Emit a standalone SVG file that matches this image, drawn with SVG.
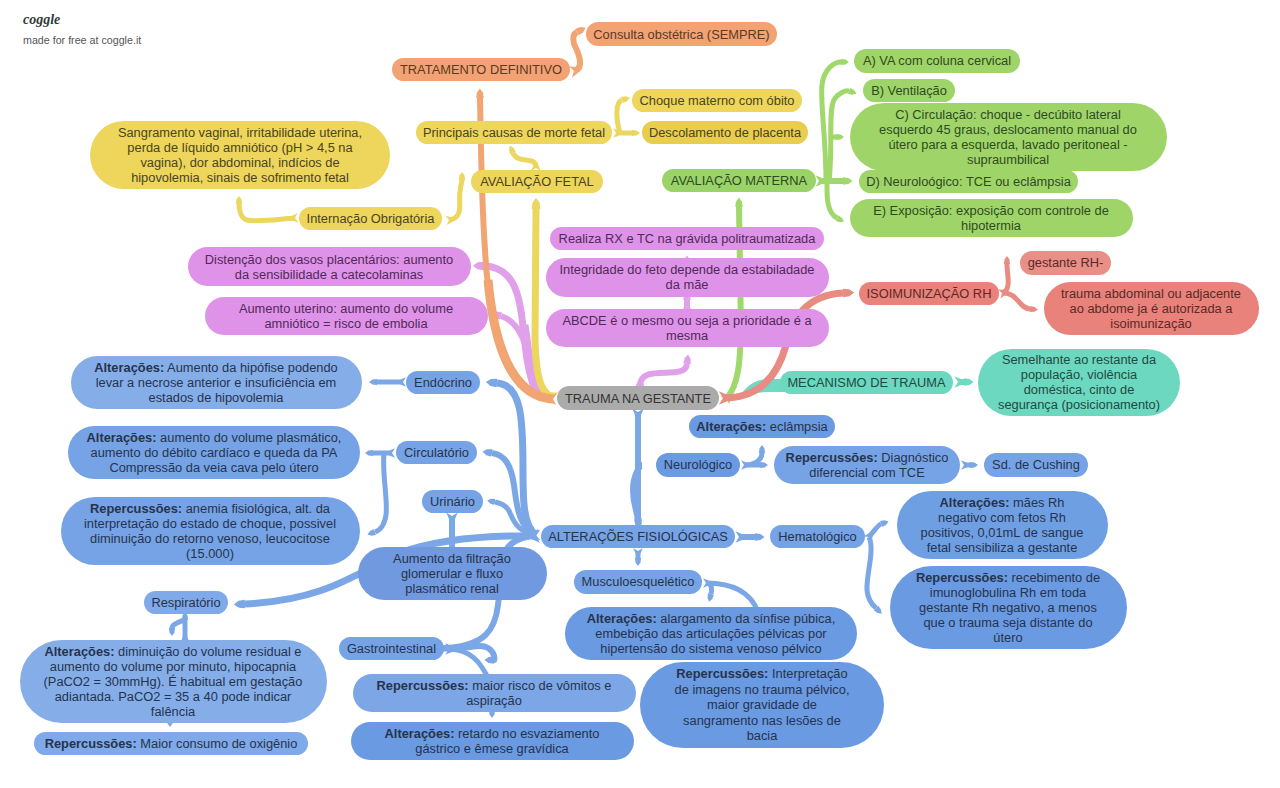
<svg xmlns="http://www.w3.org/2000/svg" width="1280" height="788" viewBox="0 0 1280 788">
<style>
text{font-family:"Liberation Sans",Arial,sans-serif;font-size:12.85px;text-anchor:middle}
.b{font-weight:bold}
.k path{fill:none}
.nf{marker-start:none!important}
.nm{marker-start:none!important;marker-end:none!important}
.or{stroke:#F0A573;marker-start:url(#for);marker-end:url(#tor)}
.ye{stroke:#EBD65E;marker-start:url(#fye);marker-end:url(#tye)}
.gr{stroke:#A0D86C;marker-start:url(#fgr);marker-end:url(#tgr)}
.pi{stroke:#E0A0EA;marker-start:url(#fpi);marker-end:url(#tpi)}
.re{stroke:#E88C83;marker-start:url(#fre);marker-end:url(#tre)}
.te{stroke:#70D9C2;marker-start:url(#fte);marker-end:url(#tte)}
.bl{stroke:#7BA7E6;marker-start:url(#fbl);marker-end:url(#tbl)}
.w5{stroke-width:5}.w6{stroke-width:6}.w7{stroke-width:7}.w9{stroke-width:9}
.to{fill:#5A3A26}.ty{fill:#4A4421}.tg{fill:#2F4A22}.tp{fill:#4F2A58}.tr{fill:#5A2A26}.tt{fill:#1F4A42}.ta{fill:#333}.tb{fill:#26334D}
</style>
<defs>
<g id="tip"><path d="M0,-.62 L.9,-.5 L1.6,0 L.9,.5 L0,.62Z"/></g>
<g id="tail"><path d="M-.6,-.95 L.5,-.5 L.5,.5 L-.6,.95 L0,0Z"/></g>
<marker id="tor" orient="auto" markerWidth="3" markerHeight="3" refX="0" refY="0" viewBox="0 -1.5 3 3"><use href="#tip" fill="#F0A573"/></marker>
<marker id="tye" orient="auto" markerWidth="3" markerHeight="3" refX="0" refY="0" viewBox="0 -1.5 3 3"><use href="#tip" fill="#EBD65E"/></marker>
<marker id="tgr" orient="auto" markerWidth="3" markerHeight="3" refX="0" refY="0" viewBox="0 -1.5 3 3"><use href="#tip" fill="#A0D86C"/></marker>
<marker id="tpi" orient="auto" markerWidth="3" markerHeight="3" refX="0" refY="0" viewBox="0 -1.5 3 3"><use href="#tip" fill="#E0A0EA"/></marker>
<marker id="tre" orient="auto" markerWidth="3" markerHeight="3" refX="0" refY="0" viewBox="0 -1.5 3 3"><use href="#tip" fill="#E88C83"/></marker>
<marker id="tte" orient="auto" markerWidth="3" markerHeight="3" refX="0" refY="0" viewBox="0 -1.5 3 3"><use href="#tip" fill="#70D9C2"/></marker>
<marker id="tbl" orient="auto" markerWidth="3" markerHeight="3" refX="0" refY="0" viewBox="0 -1.5 3 3"><use href="#tip" fill="#7BA7E6"/></marker>
<marker id="for" orient="auto" markerWidth="3" markerHeight="3" refX="0" refY="0" viewBox="-1.5 -1.5 3 3"><use href="#tail" fill="#F0A573"/></marker>
<marker id="fye" orient="auto" markerWidth="3" markerHeight="3" refX="0" refY="0" viewBox="-1.5 -1.5 3 3"><use href="#tail" fill="#EBD65E"/></marker>
<marker id="fgr" orient="auto" markerWidth="3" markerHeight="3" refX="0" refY="0" viewBox="-1.5 -1.5 3 3"><use href="#tail" fill="#A0D86C"/></marker>
<marker id="fpi" orient="auto" markerWidth="3" markerHeight="3" refX="0" refY="0" viewBox="-1.5 -1.5 3 3"><use href="#tail" fill="#E0A0EA"/></marker>
<marker id="fre" orient="auto" markerWidth="3" markerHeight="3" refX="0" refY="0" viewBox="-1.5 -1.5 3 3"><use href="#tail" fill="#E88C83"/></marker>
<marker id="fte" orient="auto" markerWidth="3" markerHeight="3" refX="0" refY="0" viewBox="-1.5 -1.5 3 3"><use href="#tail" fill="#70D9C2"/></marker>
<marker id="fbl" orient="auto" markerWidth="3" markerHeight="3" refX="0" refY="0" viewBox="-1.5 -1.5 3 3"><use href="#tail" fill="#7BA7E6"/></marker>
</defs>

<g id="brand">
<text x="23" y="24" style="font-family:'Liberation Serif',serif;font-style:italic;font-weight:bold;font-size:14px;text-anchor:start;fill:#2F3A3A">coggle</text>
<text x="23" y="44" style="font-size:10.7px;text-anchor:start;fill:#555">made for free at coggle.it</text>
</g>

<g id="connectors" class="k">
<path class="pi w7" d="M538 392C527 375 526 350 524 335C521 315 522 267 484 266"/>
<path class="pi w6 nf" d="M538 392C530 375 530 325 501 316"/>
<path class="pi w9 nm" d="M537 392C529 375 528 350 524 325"/>
<path class="pi w6" d="M640 386C640 362 685 382 687 364"/>
<path class="pi w6" d="M687 310V300"/>
<path class="pi w6 nf" d="M687 266V265"/>
<path class="ye w7" d="M552 397C540 392 536 375 535 340L536 209"/>
<path class="or w9 nm" d="M552 399C512 396 494 345 488 280"/>
<path class="or w6" d="M553 399C510 396 490 340 485 250C481 190 481 140 480 98"/>
<path class="or w6" d="M574 71C586 68 577 50 574 44C572 36 575 33 577 32"/>
<path class="ye w5" d="M536 168C537 155 518 165 513 153"/>
<path class="ye w5" d="M620 133C616 120 615 102 622 100"/>
<path class="ye w5" d="M616 133H632"/>
<path class="ye w5" d="M449 220C465 218 458 200 460 192C461 183 462 181 462 180"/>
<path class="ye w5" d="M295 218C270 220 255 222 247 220C240 218 239 208 239 204"/>
<path class="gr w6" d="M727 398C738 385 740 365 741 330L739 207"/>
<path class="gr w5" d="M826 181C826 140 820 100 822 85C824 68 835 62 841 62"/>
<path class="gr w5 nf" d="M829 181C833 150 828 110 834 100C838 93 846 90 849 91"/>
<path class="gr w5 nf" d="M830 137H836"/>
<path class="gr w6" d="M819 181H843"/>
<path class="gr w5 nf" d="M827 181C827 195 826 212 837 218"/>
<path d="M740 396C748 385 755 379 770 379H785V392H770C758 392 750 394 740 396Z" style="fill:#70D9C2"/>
<path class="te w6" d="M958 382H964"/>
<path class="re w7" d="M723 398C760 398 778 375 786 345C792 320 805 295 843 293"/>
<path class="re w5" d="M1002 293C1012 290 1007 275 1007 265L1007 264"/>
<path class="re w5 nf" d="M1002 293C1018 292 1018 308 1030 309"/>
<path class="bl w7" d="M536 536C470 535 430 542 400 553C360 570 330 600 245 604"/>
<path class="bl w6" d="M536 535C515 538 505 545 503 560L498 605C495 630 485 645 448 648"/>
<path class="bl w7 nf" d="M536 535C523 525 523 500 523 470C523 420 522 385 497 383"/>
<path class="bl w6 nf" d="M536 535C520 528 517 510 514 485C511 465 505 455 492 453"/>
<path class="bl w5 nf" d="M536 535C520 532 515 525 510 513C507 505 500 503 495 502"/>
<path class="bl w6" d="M452 516V548"/>
<path class="bl w5" d="M403 382H377"/>
<path class="bl w5" d="M392 453H373"/>
<path class="bl w5 nf" d="M384 453C382 475 388 500 386 515C384 528 378 531 375 532"/>
<path class="bl w5" d="M185 640V620"/>
<path class="bl w5 nf" d="M185 620C178 622 172 625 172 628"/>
<path class="bl w6" d="M449 649C470 649 480 643 488 648C495 652 495 660 494 660"/>
<path class="bl w5 nf" d="M449 649C470 650 480 660 490 682"/>
<path class="bl w6" d="M638 412V518"/>
<path class="bl w6 nf" d="M642 465C640 465 633 475 633 490C633 505 637 510 638 520"/>
<path class="bl w5" d="M744 465H760"/>
<path class="bl w5 nf" d="M746 465C758 464 762 458 762 453"/>
<path class="bl w5" d="M964 465H970"/>
<path class="bl w6" d="M739 537H755"/>
<path class="bl w5" d="M638 551V558"/>
<path class="bl w5" d="M869 537C875 530 878 525 881 524"/>
<path class="bl w5 nf" d="M869 537C875 550 866 575 867 590C868 602 875 607 876 608"/>
<path class="bl w5" d="M706 583C730 583 750 590 758 612"/>
<path class="bl w5 nf" d="M708 583C712 585 712 590 711 594"/>
<path class="bl w5 nf" d="M170 718V719"/>
<path class="bl w5 nf" d="M492 709V710"/>
</g>

<g id="n-root"><rect x="557" y="386" width="162" height="24" rx="12" fill="#ABABAB"/><text class="ta" x="638" y="402.500">TRAUMA NA GESTANTE</text></g>

<g id="n-trat"><rect x="392" y="58" width="178" height="23" rx="11.500" fill="#F2A273"/><text class="to" x="481" y="74">TRATAMENTO DEFINITIVO</text></g>
<g id="n-cons"><rect x="586" y="22" width="191" height="24" rx="12" fill="#F2A273"/><text class="to" x="681.500" y="38.500">Consulta obstétrica (SEMPRE)</text></g>

<g id="n-aval-fetal"><rect x="471" y="170" width="132" height="23" rx="11.500" fill="#EDD65B"/><text class="ty" x="537" y="186">AVALIAÇÃO FETAL</text></g>
<g id="n-causas"><rect x="416" y="121" width="196" height="23" rx="11.500" fill="#EDD65B"/><text class="ty" x="514" y="137">Principais causas de morte fetal</text></g>
<g id="n-choque"><rect x="632" y="89" width="170" height="23" rx="11.500" fill="#EDD65B"/><text class="ty" x="717" y="105">Choque materno com óbito</text></g>
<g id="n-desc"><rect x="642" y="121" width="166" height="23" rx="11.500" fill="#E9CD4F"/><text class="ty" x="725" y="137">Descolamento de placenta</text></g>
<g id="n-sang"><rect x="90" y="121" width="300" height="68" rx="34" fill="#EDD65B"/><text class="ty"><tspan x="240" y="137">Sangramento vaginal, irritabilidade uterina,</tspan><tspan x="240" y="152">perda de líquido amniótico (pH &gt; 4,5 na</tspan><tspan x="240" y="167">vagina), dor abdominal, indícios de</tspan><tspan x="240" y="182">hipovolemia, sinais de sofrimento fetal</tspan></text></g>
<g id="n-intern"><rect x="299" y="207" width="143" height="23" rx="11.500" fill="#EDD65B"/><text class="ty" x="370.500" y="223">Internação Obrigatória</text></g>

<g id="n-aval-mat"><rect x="662" y="169" width="154" height="23" rx="11.500" fill="#9AD468"/><text class="tg" x="739" y="185">AVALIAÇÃO MATERNA</text></g>
<g id="n-a"><rect x="854" y="49" width="166" height="24" rx="12" fill="#9FD568"/><text class="tg" x="937" y="65">A) VA com coluna cervical</text></g>
<g id="n-b"><rect x="863" y="79" width="92" height="23" rx="11.500" fill="#9FD568"/><text class="tg" x="909" y="95">B) Ventilação</text></g>
<g id="n-c"><rect x="850" y="103" width="317" height="68" rx="34" fill="#9FD568"/><text class="tg"><tspan x="1008" y="119">C) Circulação: choque - decúbito lateral</tspan><tspan x="1008" y="134">esquerdo 45 graus, deslocamento manual do</tspan><tspan x="1008" y="149">útero para a esquerda, lavado peritoneal -</tspan><tspan x="1008" y="164">supraumbilical</tspan></text></g>
<g id="n-d"><rect x="859" y="170" width="219" height="23" rx="11.500" fill="#9FD568"/><text class="tg" x="968.500" y="186">D) Neuroloógico: TCE ou eclâmpsia</text></g>
<g id="n-e"><rect x="850" y="199" width="283" height="38" rx="19" fill="#9FD568"/><text class="tg"><tspan x="991" y="215">E) Exposição: exposição com controle de</tspan><tspan x="991" y="230">hipotermia</tspan></text></g>

<g id="n-rx"><rect x="550" y="227" width="274" height="23" rx="11.500" fill="#DF93E8"/><text class="tp" x="687" y="243">Realiza RX e TC na grávida politraumatizada</text></g>
<g id="n-integ"><rect x="546" y="258" width="283" height="39" rx="19.500" fill="#DF93E8"/><text class="tp"><tspan x="687" y="274">Integridade do feto depende da estabiladade</tspan><tspan x="687" y="289">da mãe</tspan></text></g>
<g id="n-abcde"><rect x="546" y="309" width="283" height="38" rx="19" fill="#DF93E8"/><text class="tp"><tspan x="687" y="325">ABCDE é o mesmo ou seja a prioridade é a</tspan><tspan x="687" y="340">mesma</tspan></text></g>
<g id="n-dist"><rect x="188" y="247" width="283" height="39" rx="19.500" fill="#DF93E8"/><text class="tp"><tspan x="329" y="264">Distenção dos vasos placentários: aumento</tspan><tspan x="329" y="279">da sensibilidade a catecolaminas</tspan></text></g>
<g id="n-uter"><rect x="205" y="297" width="283" height="38" rx="19" fill="#DF93E8"/><text class="tp"><tspan x="346" y="313">Aumento uterino: aumento do volume</tspan><tspan x="346" y="328">amniótico = risco de embolia</tspan></text></g>

<g id="n-iso"><rect x="859" y="282" width="140" height="23" rx="11.500" fill="#E8827A"/><text class="tr" x="929" y="298">ISOIMUNIZAÇÃO RH</text></g>
<g id="n-rhneg"><rect x="1020" y="251" width="91" height="24" rx="12" fill="#E88F88"/><text class="tr" x="1065.500" y="267">gestante RH-</text></g>
<g id="n-trab"><rect x="1044" y="282" width="215" height="53" rx="26.500" fill="#E8827A"/><text class="tr"><tspan x="1151" y="298">trauma abdominal ou adjacente</tspan><tspan x="1151" y="313">ao abdome ja é autorizada a</tspan><tspan x="1151" y="328">isoimunização</tspan></text></g>

<g id="n-mec"><rect x="780" y="371" width="173" height="23" rx="11.500" fill="#6CD8BF"/><text class="tt" x="866.500" y="387">MECANISMO DE TRAUMA</text></g>
<g id="n-sem"><rect x="978" y="349" width="202" height="67" rx="33.500" fill="#6CD8BF"/><text class="tt"><tspan x="1079" y="364">Semelhante ao restante da</tspan><tspan x="1079" y="379">população, violência</tspan><tspan x="1079" y="394">doméstica, cinto de</tspan><tspan x="1079" y="409">segurança (posicionamento)</tspan></text></g>

<g id="n-endo"><rect x="406" y="371" width="74" height="23" rx="11.500" fill="#76A3E5"/><text class="tb" x="443" y="387">Endócrino</text></g>
<g id="n-endo-a"><rect x="71" y="356" width="291" height="53" rx="26.500" fill="#85AEE9"/><text class="tb"><tspan x="216" y="372"><tspan class="b">Alterações:</tspan> Aumento da hipófise podendo</tspan><tspan x="216" y="387">levar a necrose anterior e insuficiência em</tspan><tspan x="216" y="402">estados de hipovolemia</tspan></text></g>
<g id="n-circ"><rect x="396" y="441" width="81" height="23" rx="11.500" fill="#76A3E5"/><text class="tb" x="436.500" y="457">Circulatório</text></g>
<g id="n-circ-a"><rect x="68" y="426" width="292" height="53" rx="26.500" fill="#76A3E5"/><text class="tb"><tspan x="214" y="442"><tspan class="b">Alterações:</tspan> aumento do volume plasmático,</tspan><tspan x="214" y="457">aumento do débito cardíaco e queda da PA</tspan><tspan x="214" y="472">Compressão da veia cava pelo útero</tspan></text></g>
<g id="n-circ-r"><rect x="61" y="497" width="299" height="68" rx="34" fill="#76A3E5"/><text class="tb"><tspan x="210" y="513"><tspan class="b">Repercussões:</tspan> anemia fisiológica, alt. da</tspan><tspan x="210" y="528">interpretação do estado de choque, possivel</tspan><tspan x="210" y="543">diminuição do retorno venoso, leucocitose</tspan><tspan x="210" y="558">(15.000)</tspan></text></g>
<g id="n-urin"><rect x="422" y="490" width="61" height="23" rx="11.500" fill="#76A3E5"/><text class="tb" x="452.500" y="506">Urinário</text></g>
<g id="n-filt"><rect x="358" y="547" width="189" height="53" rx="26.500" fill="#7099DF"/><text class="tb"><tspan x="452" y="563">Aumento da filtração</tspan><tspan x="452" y="578">glomerular e fluxo</tspan><tspan x="452" y="593">plasmático renal</tspan></text></g>
<g id="n-alt"><rect x="541" y="525" width="194" height="23" rx="11.500" fill="#76A3E5"/><text class="tb" x="638" y="541">ALTERAÇÕES FISIOLÓGICAS</text></g>
<g id="n-resp"><rect x="144" y="591" width="84" height="23" rx="11.500" fill="#7FA9E8"/><text class="tb" x="186" y="607">Respiratório</text></g>
<g id="n-resp-a"><rect x="20" y="640" width="307" height="83" rx="41.500" fill="#85AEE9"/><text class="tb"><tspan x="173" y="656"><tspan class="b">Alterações:</tspan> diminuição do volume residual e</tspan><tspan x="173" y="671">aumento do volume por minuto, hipocapnia</tspan><tspan x="173" y="686">(PaCO2 = 30mmHg). É habitual em gestação</tspan><tspan x="173" y="701">adiantada. PaCO2 = 35 a 40 pode indicar</tspan><tspan x="173" y="716">falência</tspan></text></g>
<g id="n-resp-r"><rect x="34" y="732" width="274" height="23" rx="11.500" fill="#7FA9E8"/><text class="tb" x="171" y="748"><tspan class="b">Repercussões:</tspan> Maior consumo de oxigênio</text></g>
<g id="n-gast"><rect x="339" y="637" width="105" height="23" rx="11.500" fill="#76A3E5"/><text class="tb" x="391.500" y="653">Gastrointestinal</text></g>
<g id="n-gast-r"><rect x="353" y="674" width="283" height="38" rx="19" fill="#7CA6E6"/><text class="tb"><tspan x="494" y="690"><tspan class="b">Repercussões:</tspan> maior risco de vômitos e</tspan><tspan x="494" y="705">aspiração</tspan></text></g>
<g id="n-gast-a"><rect x="351" y="722" width="283" height="38" rx="19" fill="#6A9AE2"/><text class="tb"><tspan x="492" y="738"><tspan class="b">Alterações:</tspan> retardo no esvaziamento</tspan><tspan x="492" y="753">gástrico e êmese gravídica</tspan></text></g>
<g id="n-neuro"><rect x="656" y="453" width="84" height="24" rx="12" fill="#6A9AE2"/><text class="tb" x="698" y="469">Neurológico</text></g>
<g id="n-neuro-a"><rect x="689" y="415" width="146" height="23" rx="11.500" fill="#6A9AE2"/><text class="tb" x="762" y="431"><tspan class="b">Alterações:</tspan> eclâmpsia</text></g>
<g id="n-neuro-r"><rect x="774" y="446" width="186" height="38" rx="19" fill="#76A3E5"/><text class="tb"><tspan x="867" y="462"><tspan class="b">Repercussões:</tspan> Diagnóstico</tspan><tspan x="867" y="477">diferencial com TCE</tspan></text></g>
<g id="n-cush"><rect x="984" y="453" width="104" height="24" rx="12" fill="#76A3E5"/><text class="tb" x="1036" y="469">Sd. de Cushing</text></g>
<g id="n-hema"><rect x="770" y="525" width="95" height="23" rx="11.500" fill="#76A3E5"/><text class="tb" x="817.500" y="541">Hematológico</text></g>
<g id="n-hema-a"><rect x="897" y="491" width="211" height="68" rx="34" fill="#6F9FE3"/><text class="tb"><tspan x="1002" y="507"><tspan class="b">Alterações:</tspan> mães Rh</tspan><tspan x="1002" y="522">negativo com fetos Rh</tspan><tspan x="1002" y="537">positivos, 0,01mL de sangue</tspan><tspan x="1002" y="552">fetal sensibiliza a gestante</tspan></text></g>
<g id="n-hema-r"><rect x="890" y="566" width="237" height="83" rx="41.500" fill="#6A9AE2"/><text class="tb"><tspan x="1008" y="582"><tspan class="b">Repercussões:</tspan> recebimento de</tspan><tspan x="1008" y="597">imunoglobulina Rh em toda</tspan><tspan x="1008" y="612">gestante Rh negativo, a menos</tspan><tspan x="1008" y="627">que o trauma seja distante do</tspan><tspan x="1008" y="642">útero</tspan></text></g>
<g id="n-musc"><rect x="574" y="570" width="128" height="24" rx="12" fill="#76A3E5"/><text class="tb" x="638" y="586">Musculoesquelético</text></g>
<g id="n-musc-a"><rect x="565" y="607" width="292" height="53" rx="26.500" fill="#6A9AE2"/><text class="tb"><tspan x="711" y="623"><tspan class="b">Alterações:</tspan> alargamento da sínfise púbica,</tspan><tspan x="711" y="638">embebição das articulações pélvicas por</tspan><tspan x="711" y="653">hipertensão do sistema venoso pélvico</tspan></text></g>
<g id="n-musc-r"><rect x="640" y="662" width="244" height="86" rx="43" fill="#6A9AE2"/><text class="tb"><tspan x="762" y="678"><tspan class="b">Repercussões:</tspan> Interpretação</tspan><tspan x="762" y="694">de imagens no trauma pélvico,</tspan><tspan x="762" y="709">maior gravidade de</tspan><tspan x="762" y="725">sangramento nas lesões de</tspan><tspan x="762" y="740">bacia</tspan></text></g>
</svg>
